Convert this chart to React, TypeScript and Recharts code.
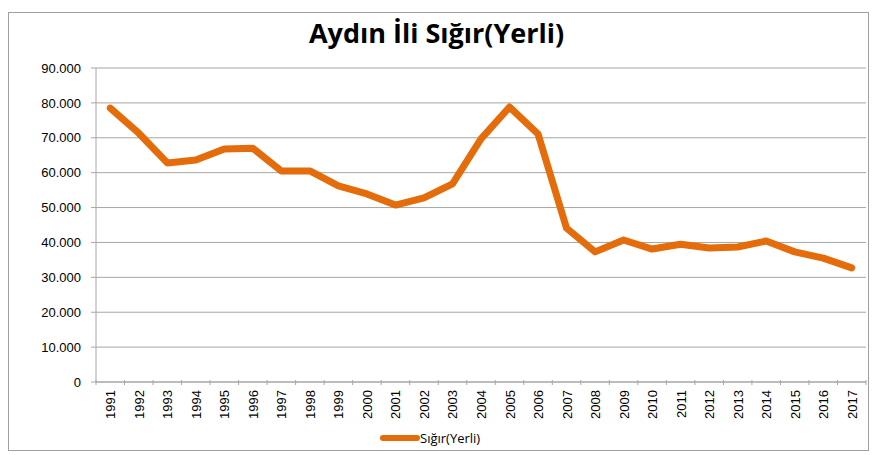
import { LineChart, Line, XAxis, YAxis, CartesianGrid } from 'recharts';

const years = [
  '1991', '1992', '1993', '1994', '1995', '1996', '1997', '1998', '1999', '2000',
  '2001', '2002', '2003', '2004', '2005', '2006', '2007', '2008', '2009', '2010',
  '2011', '2012', '2013', '2014', '2015', '2016', '2017',
];

const sigirYerli = [
  78500, 71300, 62800, 63600, 66800, 67000, 60500, 60500, 56200, 53900,
  50700, 52800, 56800, 69700, 78800, 71100, 44100, 37300, 40700, 38100,
  39500, 38400, 38700, 40400, 37300, 35500, 32700,
];

const yTicks = [0, 10000, 20000, 30000, 40000, 50000, 60000, 70000, 80000, 90000];

const chartData = years.map((year, i) => ({ year, value: sigirYerli[i] }));

const fmt = (v: number) => (v === 0 ? '0' : v.toLocaleString('de-DE'));

const BAND = 770 / years.length;

const YearTick = (props: any) => {
  const { x, y, payload, index } = props;
  const left = x - BAND / 2;
  const right = x + BAND / 2;
  return (
    <g>
      <line x1={left} y1={y - 8} x2={left} y2={y - 3} stroke="#a6a6a6" />
      {index === years.length - 1 && (
        <line x1={right} y1={y - 8} x2={right} y2={y - 3} stroke="#a6a6a6" />
      )}
      <text
        x={x + 5}
        y={y + 2}
        transform={`rotate(-90 ${x + 5} ${y + 2})`}
        textAnchor="end"
        fontSize={13}
        fontFamily="Liberation Sans, Arial, sans-serif"
        fill="#000"
      >
        {payload.value}
      </text>
    </g>
  );
};

const App = () => {
  return (
    <div style={{ position: 'absolute', top: 0, left: 0, width: 873, height: 455, background: '#fff' }}>
      <div
        style={{
          position: 'absolute',
          left: 8,
          top: 12,
          width: 861,
          height: 439,
          border: '1px solid #a0a0a0',
          boxSizing: 'border-box',
        }}
      />
      <div
        style={{
          position: 'absolute',
          top: 14,
          left: 0,
          width: 873,
          textAlign: 'center',
          fontFamily: 'Open Sans, sans-serif',
          fontWeight: 700,
          fontSize: 27,
          color: '#000',
        }}
      >
        Aydın İli Sığır(Yerli)
      </div>
      <div style={{ position: 'absolute', top: 0, left: 0 }}>
        <LineChart width={873} height={455} data={chartData} margin={{ top: 68, right: 7, bottom: 0, left: 0 }}>
          <CartesianGrid vertical={false} stroke="#a6a6a6" />
          <XAxis
            dataKey="year"
            height={73}
            interval={0}
            padding={{ left: BAND / 2, right: BAND / 2 }}
            tickLine={false}
            axisLine={{ stroke: '#a6a6a6' }}
            tick={<YearTick />}
            tickMargin={0}
          />
          <YAxis
            width={96}
            domain={[0, 90000]}
            ticks={yTicks}
            tickFormatter={fmt}
            axisLine={{ stroke: '#a6a6a6' }}
            tickLine={{ stroke: '#a6a6a6' }}
            tickSize={5}
            tickMargin={10}
            tick={{ fontSize: 13, fill: '#000', fontFamily: 'Liberation Sans, Arial, sans-serif' }}
          />
          <Line
            dataKey="value"
            stroke="#e46c0a"
            strokeWidth={7}
            strokeLinejoin="round"
            strokeLinecap="round"
            dot={false}
            isAnimationActive={false}
          />
        </LineChart>
      </div>
      <div
        style={{
          position: 'absolute',
          top: 429,
          left: 380,
          display: 'flex',
          alignItems: 'center',
          fontFamily: 'Open Sans, sans-serif',
          fontSize: 13,
          color: '#000',
        }}
      >
        <span style={{ display: 'inline-block', width: 40, height: 6, background: '#e46c0a', borderRadius: 3 }} />
        <span>Sığır(Yerli)</span>
      </div>
    </div>
  );
};

export default App;
